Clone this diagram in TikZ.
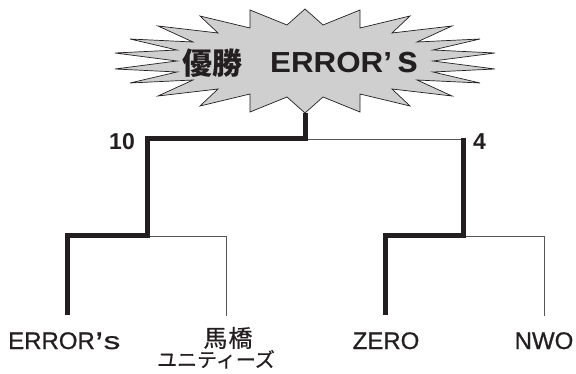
\documentclass[tikz,border=0pt]{standalone}
\usepackage{fontspec}
\setmainfont{Liberation Sans}
\newfontfamily\medfont[FakeBold=0.8]{Liberation Sans}
\newfontfamily\cjk{Noto Sans CJK JP}
\newfontfamily\cjkmed[FakeBold=0.5]{Noto Sans CJK JP}
\usepackage{graphicx}
\definecolor{ink}{HTML}{231F20}
\definecolor{starfill}{HTML}{CFCFCF}
\definecolor{thin}{HTML}{555555}
\tikzset{
  win/.style={draw=ink, line width=5pt, line join=miter},
  lose/.style={draw=thin, line width=0.9pt},
  starshape/.style={draw=ink, fill=starfill, line width=0.7pt, line join=miter},
  lbl/.style={inner sep=0pt, text=ink, font=\medfont\fontsize{24}{24}\selectfont},
  num/.style={inner sep=0pt, text=ink, font=\fontsize{23}{23}\selectfont\bfseries},
}
\begin{document}
\begin{tikzpicture}[x=1pt,y=-1pt]
\useasboundingbox (0,0) rectangle (576,374);
% star burst
\coordinate (sc) at (305,61);
\draw[starshape, shift={(sc)}]
 (0,-52) -- (-18,-36) -- (-55,-51) -- (-55,-33) -- (-105,-45) -- (-87,-28)
 -- (-147,-35) -- (-112,-19) -- (-175,-22) -- (-128,-11) -- (-190,-8) -- (-128,0)
 -- (-190,8) -- (-128,11) -- (-175,22) -- (-112,19) -- (-147,35) -- (-87,28)
 -- (-105,45) -- (-55,33) -- (-55,51) -- (-18,36) -- (0,52)
 -- (18,36) -- (55,51) -- (55,33) -- (105,45) -- (87,28) -- (147,35) -- (112,19)
 -- (175,22) -- (128,11) -- (190,8) -- (128,0) -- (190,-8) -- (128,-11)
 -- (175,-22) -- (112,-19) -- (147,-35) -- (87,-28) -- (105,-45) -- (55,-33)
 -- (55,-51) -- (18,-36) -- cycle;
\coordinate (starbottom) at (305,113);
\node[inner sep=0pt, anchor=base, text=ink] (champj) at (212,75)
  {\cjk\bfseries\fontsize{30}{30}\selectfont 優勝};
\node[inner sep=0pt, anchor=base west, text=ink] (champ) at (270,73)
  {\fontsize{29}{29}\selectfont\bfseries\scalebox{1.08}[1]{ERROR’}\hspace{5pt}\scalebox{1.3}[1.3]{s}};
% junctions
\coordinate (fin) at (305,139);
\coordinate (sf2) at (463,138);
\coordinate (fin2) at (463,139);
\coordinate (q1) at (147,236);
\coordinate (q2) at (463,236);
\coordinate (e1) at (67,315);
\coordinate (e2) at (226,316);
\coordinate (e3) at (385,315);
\coordinate (e4) at (544,316);
% scores
\node[num, anchor=base east] (s10) at (135,150) {10};
\node[num, anchor=base west] (s4) at (473,150) {4};
% bracket lines
\draw[lose] (fin) -- (fin2);
\draw[lose] (q1) -| (e2);
\draw[lose] (q2) -| (e4);
\draw[win] (starbottom) -- (fin) -| (q1) -| (e1);
\draw[win] (sf2) -- (q2) -| (e3);
% team labels
\node[lbl, anchor=base west] (t1) at (8,349) {ERROR\kern1pt{\bfseries ’}\kern1pt\scalebox{1.4}[1]{s}};
\node[lbl, anchor=base] (t2) at (228,347) {\cjkmed\fontsize{24}{24}\selectfont 馬\kern1pt 橋};
\node[lbl, anchor=base] (t2b) at (216,367) {\cjkmed\fontsize{20}{20}\selectfont ユニティーズ};
\node[lbl, anchor=base] (t3) at (386,349) {ZERO};
\node[lbl, anchor=base] (t4) at (544,349) {NWO};
\end{tikzpicture}
\end{document}
